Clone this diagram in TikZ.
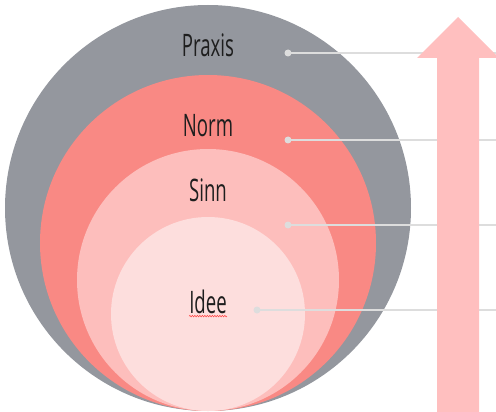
\documentclass[tikz,border=0pt]{standalone}
\usepackage{fontspec}
\setmainfont[FakeStretch=0.6]{Open Sans}
\usetikzlibrary{decorations.pathmorphing}
\definecolor{cgray}{RGB}{148,151,158}
\definecolor{cnorm}{RGB}{249,137,132}
\definecolor{csinn}{RGB}{253,190,188}
\definecolor{cidee}{RGB}{253,222,221}
\definecolor{carrow}{RGB}{255,191,191}
\definecolor{cline}{RGB}{221,221,221}
\definecolor{ctext}{RGB}{30,30,30}
\tikzset{
  lab/.style={font=\fontsize{31}{33}\selectfont, text=ctext, inner sep=0pt},
  dotc/.style={circle, fill=cline, inner sep=0pt, minimum size=7pt},
  lead/.style={draw=cline, line width=1.3pt},
}
\begin{document}
\begin{tikzpicture}[x=1pt,y=-1pt]
\useasboundingbox (0,0) rectangle (496,412);
\fill[cgray] (208,208) circle (203);
\fill[cnorm] (208,243) circle (168);
\fill[csinn] (208,280) circle (131);
\fill[cidee] (208,314) circle (97);
\node[lab] (praxis) at (208,45) {Praxis};
\node[lab] (norm) at (208,126) {Norm};
\node[lab] (sinn) at (208,190) {Sinn};
\node[lab] (idee) at (208,302) {Idee};
\draw[red!75, line width=0.5pt, decorate, decoration={snake, amplitude=0.8pt, segment length=2.5pt}]
  ([yshift=-2pt]idee.south west) -- ([yshift=-2pt]idee.south east);
\node[dotc] (d1) at (288,53) {};
\node[dotc] (d2) at (288,140) {};
\node[dotc] (d3) at (288,225) {};
\node[dotc] (d4) at (257,310) {};
\coordinate (e1) at (496,53);
\coordinate (e2) at (496,140);
\coordinate (e3) at (496,225);
\coordinate (e4) at (496,310);
\draw[lead] (d1.center) -- (e1);
\draw[lead] (d2.center) -- (e2);
\draw[lead] (d3.center) -- (e3);
\draw[lead] (d4.center) -- (e4);
\fill[carrow] (437,412) -- (437,58) -- (417,58) -- (458,17) -- (499,58) -- (479,58) -- (479,412) -- cycle;
\end{tikzpicture}
\end{document}
